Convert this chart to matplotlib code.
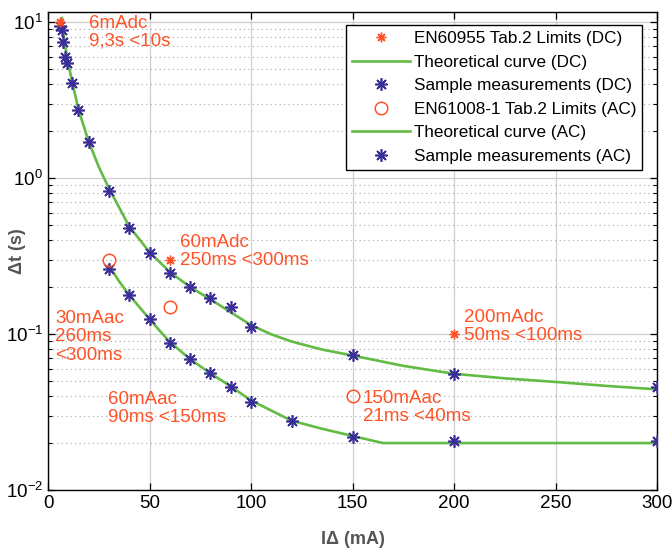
import matplotlib
matplotlib.use("Agg")
import matplotlib.pyplot as plt
from matplotlib.ticker import LogLocator, NullFormatter, MultipleLocator

plt.rcParams["font.family"] = ["Liberation Sans", "DejaVu Sans"]

ORANGE = "#ff5227"
GREEN = "#62bb43"
BLUE = "#3a2e98"

# limits from the standards
dc_limit_ma = [6, 60, 200]
dc_limit_s = [10, 0.3, 0.1]
ac_limit_ma = [30, 60, 150]
ac_limit_s = [0.3, 0.15, 0.04]

# theoretical curves
dc_curve_ma = [6.8, 8, 10, 12, 15, 20, 25, 30, 40, 50, 60, 70, 80, 90, 100,
               110, 120, 135, 150, 175, 200, 225, 250, 275, 300]
dc_curve_s = [10.6, 7.6, 5.4, 4.1, 2.75, 1.72, 1.18, 0.86, 0.49, 0.335, 0.25,
              0.2, 0.167, 0.138, 0.114, 0.0995, 0.0895, 0.0795, 0.0728,
              0.0625, 0.0556, 0.052, 0.0493, 0.0465, 0.0442]
ac_curve_ma = [30, 35, 40, 45, 50, 55, 60, 70, 80, 90, 100, 110, 120, 135,
               150, 165, 300]
ac_curve_s = [0.275, 0.218, 0.178, 0.149, 0.125, 0.105, 0.089, 0.069, 0.056,
              0.0462, 0.0375, 0.0323, 0.0278, 0.0247, 0.0222, 0.0200, 0.0200]

# sample measurements
dc_meas_ma = [6, 6.8, 7.5, 8.5, 9.5, 12, 15, 20, 30, 40, 50, 60, 70, 80, 90,
              100, 150, 200, 300]
dc_meas_s = [9.4, 8.9, 7.4, 6.0, 5.5, 4.05, 2.73, 1.70, 0.826, 0.478, 0.33,
             0.246, 0.2, 0.17, 0.149, 0.111, 0.0733, 0.0554, 0.0458]
ac_meas_ma = [30, 40, 50, 60, 70, 80, 90, 100, 120, 150, 200, 300]
ac_meas_s = [0.261, 0.178, 0.125, 0.0875, 0.069, 0.056, 0.0457, 0.0366,
             0.0277, 0.0219, 0.0206, 0.0206]

notes = [
    (20, 8.6, "6mAdc\n9,3s <10s"),
    (65, 0.336, "60mAdc\n250ms <300ms"),
    (3.4, 0.0957, "30mAac\n260ms\n<300ms"),
    (29.6, 0.0333, "60mAac\n90ms <150ms"),
    (205, 0.111, "200mAdc\n50ms <100ms"),
    (155, 0.0338, "150mAac\n21ms <40ms"),
]

asterisk = (8, 2, 0)

fig = plt.figure(figsize=(6.72, 5.49), dpi=100)
ax = fig.add_axes([48 / 672, 1 - 490 / 549, 609 / 672, 478 / 549])

ax.plot(dc_limit_ma, dc_limit_s, ls="none", marker=asterisk, ms=7, mew=1.0,
        color=ORANGE, label="EN60955 Tab.2 Limits (DC)", zorder=4)
ax.plot(dc_curve_ma, dc_curve_s, color=GREEN, lw=1.9,
        label="Theoretical curve (DC)", zorder=2)
ax.plot(dc_meas_ma, dc_meas_s, ls="none", marker=asterisk, ms=9, mew=1.2,
        color=BLUE, label="Sample measurements (DC)", zorder=3)
ax.plot(ac_limit_ma, ac_limit_s, ls="none", marker="o", ms=9, mew=1.1,
        mfc="none", color=ORANGE, label="EN61008-1 Tab.2 Limits (AC)", zorder=4)
ax.plot(ac_curve_ma, ac_curve_s, color=GREEN, lw=1.9,
        label="Theoretical curve (AC)", zorder=2)
ax.plot(ac_meas_ma, ac_meas_s, ls="none", marker=asterisk, ms=9, mew=1.2,
        color=BLUE, label="Sample measurements (AC)", zorder=3)

for x, y, txt in notes:
    ax.text(x, y, txt, color=ORANGE, fontsize=13.5, ha="left", va="center",
            linespacing=1.08, zorder=5)

ax.set_yscale("log")
ax.set_xlim(0, 300)
ax.set_ylim(0.01, 11.6)
ax.xaxis.set_major_locator(MultipleLocator(50))
ax.yaxis.set_major_locator(LogLocator(base=10, numticks=10))
ax.yaxis.set_minor_locator(LogLocator(base=10, subs=range(2, 10), numticks=20))
ax.yaxis.set_minor_formatter(NullFormatter())

ax.grid(True, which="major", color="#cfcfcf", lw=0.9, ls="-")
ax.grid(True, which="minor", axis="y", color="#a8a8a8", lw=0.8, ls=(0, (1, 3)))
ax.set_axisbelow(True)

ax.tick_params(which="both", direction="in", top=True, right=True,
               labelsize=13.5, colors="black")
ax.tick_params(which="major", length=5, width=0.9)
ax.tick_params(which="minor", length=3, width=0.8)
for sp in ax.spines.values():
    sp.set_linewidth(1.0)

ax.set_xlabel("I\u0394 (mA)", fontsize=13, fontweight="bold", color="#555555")
ax.xaxis.set_label_coords(0.5, -0.085)
ax.set_ylabel("\u0394t (s)", fontsize=13, fontweight="bold", color="#555555")
ax.yaxis.set_label_coords(-0.036, 0.5)

leg = ax.legend(loc="upper right", bbox_to_anchor=(642 / 672, 1 - 25 / 549),
                bbox_transform=fig.transFigure, borderaxespad=0, fontsize=12.3,
                fancybox=False, framealpha=1, edgecolor="black",
                handlelength=3.4, handletextpad=0.2, labelspacing=0.5,
                borderpad=0.35)
leg.get_frame().set_linewidth(1.0)

fig.savefig("out.png", dpi=100)
